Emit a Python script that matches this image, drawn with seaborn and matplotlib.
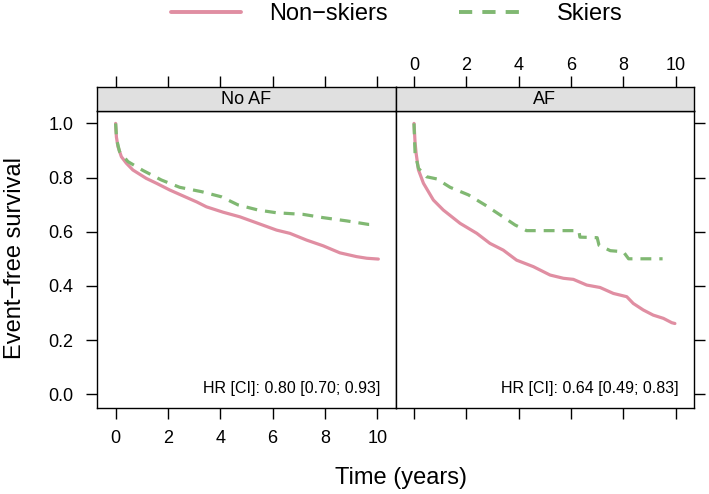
import numpy as np
import pandas as pd
import matplotlib
matplotlib.use("Agg")
import matplotlib.pyplot as plt
from matplotlib.lines import Line2D
import seaborn as sns

sns.set_style("white")
plt.rcParams["font.family"] = ["Liberation Sans", "DejaVu Sans"]
plt.rcParams["axes.unicode_minus"] = True
plt.rcParams["text.color"] = "black"
plt.rcParams["xtick.color"] = "black"
plt.rcParams["ytick.color"] = "black"
plt.rcParams["xtick.labelcolor"] = "black"
plt.rcParams["ytick.labelcolor"] = "black"

### 패널 / 그룹
panels = ["No AF", "AF"]
groups = ["Non−skiers", "Skiers"]
hr_text = {"No AF": "HR [CI]: 0.80 [0.70; 0.93]",
           "AF": "HR [CI]: 0.64 [0.49; 0.83]"}

### Kaplan-Meier 곡선
noaf_non_t = [0, 0.03, 0.09, 0.22, 0.41, 0.66, 1.17, 1.56, 2.07, 2.7, 3.1, 3.47, 4.11, 4.75,
              5.38, 6.15, 6.66, 7.3, 7.93, 8.57, 9.21, 9.6, 10.04]
noaf_non_s = [1.0, 0.95, 0.914, 0.877, 0.853, 0.828, 0.797, 0.779, 0.754, 0.727, 0.71, 0.692,
              0.672, 0.655, 0.633, 0.606, 0.594, 0.569, 0.548, 0.522, 0.508, 0.502, 0.499]
noaf_ski_t = [0, 0.04, 0.15, 0.47, 1.05, 1.75, 2.45, 3.28, 4.04, 4.68, 5.45, 6.15, 7.17, 7.93,
              8.83, 9.66, 9.8]
noaf_ski_s = [1.0, 0.94, 0.896, 0.859, 0.826, 0.791, 0.764, 0.748, 0.729, 0.699, 0.68, 0.67,
              0.664, 0.652, 0.64, 0.627, 0.627]

af_non_t = [0, 0.04, 0.08, 0.17, 0.36, 0.74, 1.12, 1.76, 2.4, 2.9, 3.41, 3.92, 4.56, 5.2, 5.71,
            6.09, 6.6, 7.11, 7.62, 8.13, 8.38, 8.76, 9.14, 9.53, 9.85, 9.97]
af_non_s = [1.0, 0.93, 0.89, 0.828, 0.779, 0.717, 0.68, 0.631, 0.594, 0.557, 0.532, 0.495,
            0.471, 0.44, 0.428, 0.424, 0.403, 0.394, 0.372, 0.36, 0.335, 0.311, 0.292,
            0.28, 0.264, 0.261]
af_ski_t = [0, 0.02, 0.04, 0.17, 0.48, 0.87, 1.38, 2.08, 2.71, 3.29, 3.86, 4.3, 6.3, 6.34,
            7.0, 7.07, 7.5, 8.0, 8.2, 9.5]
af_ski_s = [1.0, 0.94, 0.89, 0.834, 0.803, 0.795, 0.764, 0.736, 0.699, 0.662, 0.625, 0.604,
            0.604, 0.58, 0.578, 0.55, 0.53, 0.526, 0.5, 0.5]

curves = {
    ("No AF", "Non−skiers"): (noaf_non_t, noaf_non_s),
    ("No AF", "Skiers"): (noaf_ski_t, noaf_ski_s),
    ("AF", "Non−skiers"): (af_non_t, af_non_s),
    ("AF", "Skiers"): (af_ski_t, af_ski_s),
}
rows = []
for (p, g), (t, s) in curves.items():
    for ti, si in zip(t, s):
        rows.append({"panel": p, "group": g, "time": ti, "surv": si})
df = pd.DataFrame(rows)

colors = {"Non−skiers": "#e08ea2", "Skiers": "#80b872"}
dashes = {"Non−skiers": "", "Skiers": (3.4, 2.5)}

W, H = 709, 494
fig = plt.figure(figsize=(W / 100, H / 100), dpi=100)

def fx(px):
    return px / W

def fy(py):
    return 1 - py / H

left_x = [97.3, 395.7]
pw = 298.3
top, bot, strip_top = 110.7, 407.7, 86.7

tick_kw = dict(direction="out", length=8, width=1.0, color="black", labelsize=13,
               labelcolor="black")

for i, p in enumerate(panels):
    ax = fig.add_axes([fx(left_x[i]), fy(bot), pw / W, (bot - top) / H])
    sax = fig.add_axes([fx(left_x[i]), fy(top), pw / W, (top - strip_top) / H], sharex=ax)

    sns.lineplot(data=df[df.panel == p], x="time", y="surv", hue="group", style="group",
                 palette=colors, dashes=dashes, estimator=None, sort=False,
                 linewidth=2.3, legend=False, ax=ax)

    ax.set_xlim(-0.7, 10.7)
    ax.set_ylim(-0.05, 1.047)
    ax.set_xticks(range(0, 11, 2))
    ax.set_yticks([0, 0.2, 0.4, 0.6, 0.8, 1.0])
    ax.set_xlabel("")
    ax.set_ylabel("")
    ax.set_facecolor("white")
    for sp in ax.spines.values():
        sp.set_color("black")
        sp.set_linewidth(1.0)

    ax.text(10.1, 0.004, hr_text[p], ha="right", va="baseline", fontsize=11.5, color="black")

    # 스트립
    sax.set_facecolor("#e0e0e0")
    sax.set_yticks([])
    for sp in sax.spines.values():
        sp.set_color("black")
        sp.set_linewidth(1.0)
    sax.text(0.5, 0.45, p, transform=sax.transAxes, ha="center", va="center", fontsize=13,
             color="black")

    if i == 0:
        ax.tick_params(axis="x", bottom=True, labelbottom=True, pad=8, **tick_kw)
        ax.tick_params(axis="y", left=True, labelleft=True, right=False, pad=9, **tick_kw)
        ax.yaxis.set_major_formatter(matplotlib.ticker.FormatStrFormatter("%.1f"))
        sax.tick_params(axis="x", bottom=False, labelbottom=False, top=True, labeltop=False, **tick_kw)
    else:
        ax.tick_params(axis="x", bottom=True, labelbottom=False, **tick_kw)
        ax.tick_params(axis="y", left=False, labelleft=False, right=True, labelright=False, **tick_kw)
        sax.tick_params(axis="x", bottom=False, labelbottom=False, top=True, labeltop=True, pad=1.5, **tick_kw)

fig.text(fx(401), fy(478), "Time (years)", ha="center", va="center", fontsize=17)
fig.text(fx(15), fy(258), "Event−free survival", ha="center", va="center", rotation=90, fontsize=17)

handles = [Line2D([], [], color=colors["Non−skiers"], lw=2.8),
           Line2D([], [], color=colors["Skiers"], lw=2.8, dashes=(3.4, 2.6))]
fig.legend(handles, groups, ncol=2, loc="center", bbox_to_anchor=(fx(397), fy(14)),
           frameon=False, fontsize=17, handlelength=2.95, handletextpad=1.2,
           columnspacing=3.0, borderpad=0)

fig.savefig("out.png", dpi=100)
